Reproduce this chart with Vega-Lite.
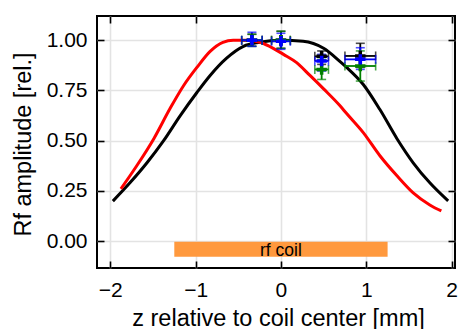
{
  "$schema": "https://vega.github.io/schema/vega-lite/v6.json",
  "width": 358,
  "height": 252,
  "autosize": "none",
  "padding": {"left": 97, "top": 16, "right": 5, "bottom": 61},
  "background": "white",
  "config": {
    "view": {"stroke": "black", "strokeWidth": 2},
    "font": "Liberation Sans",
    "axis": {
      "domain": false,
      "tickColor": "black",
      "tickWidth": 1.6,
      "tickSize": -7,
      "labelFont": "Liberation Sans",
      "labelFontSize": 21,
      "labelColor": "black",
      "titleFont": "Liberation Sans",
      "titleFontSize": 23.5,
      "titleFontWeight": "normal",
      "titleColor": "black",
      "gridColor": "#e3e3e3",
      "gridWidth": 1.6
    }
  },
  "datasets": {
    "coil": [
      {"z1": -1.25, "z2": 1.25, "a1": -0.078, "a2": -0.003, "zc": 0, "ac": -0.04, "label": "rf coil"}
    ],
    "curves": [
      {"model": "calc", "z": -1.97, "amp": 0.199},
      {"model": "calc", "z": -1.77, "amp": 0.29},
      {"model": "calc", "z": -1.57, "amp": 0.39},
      {"model": "calc", "z": -1.375, "amp": 0.5},
      {"model": "calc", "z": -1.18, "amp": 0.625},
      {"model": "calc", "z": -0.985, "amp": 0.74},
      {"model": "calc", "z": -0.83, "amp": 0.825},
      {"model": "calc", "z": -0.64, "amp": 0.91},
      {"model": "calc", "z": -0.44, "amp": 0.97},
      {"model": "calc", "z": -0.25, "amp": 0.99},
      {"model": "calc", "z": 0, "amp": 1.0},
      {"model": "calc", "z": 0.26, "amp": 0.995},
      {"model": "calc", "z": 0.5, "amp": 0.96},
      {"model": "calc", "z": 0.69, "amp": 0.895},
      {"model": "calc", "z": 0.77, "amp": 0.865},
      {"model": "calc", "z": 0.965, "amp": 0.78},
      {"model": "calc", "z": 1.16, "amp": 0.655},
      {"model": "calc", "z": 1.36, "amp": 0.51},
      {"model": "calc", "z": 1.55, "amp": 0.39},
      {"model": "calc", "z": 1.745, "amp": 0.29},
      {"model": "calc", "z": 1.96, "amp": 0.2},
      {"model": "meas", "z": -1.876, "amp": 0.26},
      {"model": "meas", "z": -1.69, "amp": 0.375},
      {"model": "meas", "z": -1.49, "amp": 0.51},
      {"model": "meas", "z": -1.3, "amp": 0.66},
      {"model": "meas", "z": -1.14, "amp": 0.775},
      {"model": "meas", "z": -0.985, "amp": 0.865},
      {"model": "meas", "z": -0.83, "amp": 0.945},
      {"model": "meas", "z": -0.68, "amp": 0.99},
      {"model": "meas", "z": -0.56, "amp": 1.0},
      {"model": "meas", "z": -0.4, "amp": 1.0},
      {"model": "meas", "z": -0.246, "amp": 0.99},
      {"model": "meas", "z": -0.09, "amp": 0.96},
      {"model": "meas", "z": 0.03, "amp": 0.93},
      {"model": "meas", "z": 0.18, "amp": 0.89},
      {"model": "meas", "z": 0.34, "amp": 0.825},
      {"model": "meas", "z": 0.5, "amp": 0.758},
      {"model": "meas", "z": 0.69, "amp": 0.675},
      {"model": "meas", "z": 0.77, "amp": 0.635},
      {"model": "meas", "z": 0.965, "amp": 0.54},
      {"model": "meas", "z": 1.16, "amp": 0.425},
      {"model": "meas", "z": 1.36, "amp": 0.325},
      {"model": "meas", "z": 1.55, "amp": 0.24},
      {"model": "meas", "z": 1.745, "amp": 0.18},
      {"model": "meas", "z": 1.88, "amp": 0.15}
    ],
    "points": [
      {"run": "run 1", "z": -0.34, "zlo": -0.46, "zhi": -0.22, "amp": 1.0, "alo": 0.97, "ahi": 1.03},
      {"run": "run 1", "z": 0.0, "zlo": -0.11, "zhi": 0.11, "amp": 1.0, "alo": 0.96, "ahi": 1.045},
      {"run": "run 1", "z": 0.477, "zlo": 0.397, "zhi": 0.557, "amp": 0.92, "alo": 0.88, "ahi": 0.947},
      {"run": "run 1", "z": 0.93, "zlo": 0.75, "zhi": 1.11, "amp": 0.922, "alo": 0.865, "ahi": 0.985},
      {"run": "run 2", "z": -0.34, "zlo": -0.46, "zhi": -0.22, "amp": 1.0, "alo": 0.97, "ahi": 1.03},
      {"run": "run 2", "z": 0.0, "zlo": -0.11, "zhi": 0.11, "amp": 1.0, "alo": 0.96, "ahi": 1.045},
      {"run": "run 2", "z": 0.477, "zlo": 0.397, "zhi": 0.557, "amp": 0.855, "alo": 0.805, "ahi": 0.905},
      {"run": "run 2", "z": 0.93, "zlo": 0.75, "zhi": 1.11, "amp": 0.872, "alo": 0.797, "ahi": 0.947},
      {"run": "run 3", "z": -0.34, "zlo": -0.46, "zhi": -0.22, "amp": 1.0, "alo": 0.97, "ahi": 1.04},
      {"run": "run 3", "z": 0.0, "zlo": -0.11, "zhi": 0.11, "amp": 0.995, "alo": 0.955, "ahi": 1.035},
      {"run": "run 3", "z": 0.477, "zlo": 0.397, "zhi": 0.557, "amp": 0.897, "alo": 0.847, "ahi": 0.93},
      {"run": "run 3", "z": 0.93, "zlo": 0.75, "zhi": 1.11, "amp": 0.905, "alo": 0.855, "ahi": 0.963}
    ]
  },
  "layer": [
    {
      "data": {"name": "coil"},
      "mark": {"type": "rect", "color": "#ff993e"},
      "encoding": {
        "x": {
          "field": "z1", "type": "quantitative",
          "scale": {"domain": [-2.156, 2.04], "nice": false, "zero": false},
          "axis": {
            "orient": "bottom", "values": [-2, -1, 0, 1, 2], "format": "d",
            "grid": true, "labelPadding": 18,
            "title": "z relative to coil center [mm]",
            "titleX": 181, "titleY": 57, "titleBaseline": "alphabetic"
          }
        },
        "x2": {"field": "z2"},
        "y": {
          "field": "a1", "type": "quantitative",
          "scale": {"domain": [-0.134, 1.121], "nice": false, "zero": false},
          "axis": {
            "orient": "left", "values": [0, 0.25, 0.5, 0.75, 1], "format": ".2f",
            "grid": true, "labelPadding": 17,
            "title": "Rf amplitude [rel.]",
            "titleX": -67, "titleY": 128, "titleBaseline": "alphabetic"
          }
        },
        "y2": {"field": "a2"}
      }
    },
    {
      "data": {"name": "coil"},
      "mark": {"type": "text", "fontSize": 17.5, "baseline": "alphabetic", "dy": 6.5, "color": "black"},
      "encoding": {
        "x": {"field": "zc", "type": "quantitative", "scale": {"domain": [-2.156, 2.04], "nice": false, "zero": false}, "axis": null},
        "y": {"field": "ac", "type": "quantitative", "scale": {"domain": [-0.134, 1.121], "nice": false, "zero": false}, "axis": null},
        "text": {"field": "label"}
      }
    },
    {
      "data": {"name": "curves"},
      "mark": {"type": "line", "strokeWidth": 3, "interpolate": "monotone"},
      "encoding": {
        "x": {"field": "z", "type": "quantitative", "scale": {"domain": [-2.156, 2.04], "nice": false, "zero": false}, "axis": null},
        "y": {"field": "amp", "type": "quantitative", "scale": {"domain": [-0.134, 1.121], "nice": false, "zero": false}, "axis": null},
        "stroke": {"field": "model", "type": "nominal", "scale": {"domain": ["calc", "meas"], "range": ["#000000", "#ff0000"]}, "legend": null}
      }
    },
    {
      "data": {"name": "points"},
      "mark": {"type": "rule", "strokeWidth": 1.8},
      "encoding": {
        "x": {"field": "z", "type": "quantitative", "scale": {"domain": [-2.156, 2.04], "nice": false, "zero": false}, "axis": null},
        "y": {"field": "alo", "type": "quantitative", "scale": {"domain": [-0.134, 1.121], "nice": false, "zero": false}, "axis": null},
        "y2": {"field": "ahi"},
        "color": {"field": "run", "type": "nominal", "scale": {"domain": ["run 1", "run 2", "run 3"], "range": ["#000000", "#008000", "#0000ff"]}, "legend": null}
      }
    },
    {
      "data": {"name": "points"},
      "mark": {"type": "rule", "strokeWidth": 1.8},
      "encoding": {
        "x": {"field": "zlo", "type": "quantitative", "scale": {"domain": [-2.156, 2.04], "nice": false, "zero": false}, "axis": null},
        "x2": {"field": "zhi"},
        "y": {"field": "amp", "type": "quantitative", "scale": {"domain": [-0.134, 1.121], "nice": false, "zero": false}, "axis": null},
        "color": {"field": "run", "type": "nominal", "scale": {"domain": ["run 1", "run 2", "run 3"], "range": ["#000000", "#008000", "#0000ff"]}, "legend": null}
      }
    },
    {
      "data": {"name": "points"},
      "transform": [{"fold": ["alo", "ahi"], "as": ["bound", "cap"]}],
      "mark": {"type": "tick", "orient": "horizontal", "size": 9, "thickness": 1.6},
      "encoding": {
        "x": {"field": "z", "type": "quantitative", "scale": {"domain": [-2.156, 2.04], "nice": false, "zero": false}, "axis": null},
        "y": {"field": "cap", "type": "quantitative", "scale": {"domain": [-0.134, 1.121], "nice": false, "zero": false}, "axis": null},
        "color": {"field": "run", "type": "nominal", "scale": {"domain": ["run 1", "run 2", "run 3"], "range": ["#000000", "#008000", "#0000ff"]}, "legend": null}
      }
    },
    {
      "data": {"name": "points"},
      "transform": [{"fold": ["zlo", "zhi"], "as": ["bound", "cap"]}],
      "mark": {"type": "tick", "orient": "vertical", "size": 9, "thickness": 1.6},
      "encoding": {
        "x": {"field": "cap", "type": "quantitative", "scale": {"domain": [-2.156, 2.04], "nice": false, "zero": false}, "axis": null},
        "y": {"field": "amp", "type": "quantitative", "scale": {"domain": [-0.134, 1.121], "nice": false, "zero": false}, "axis": null},
        "color": {"field": "run", "type": "nominal", "scale": {"domain": ["run 1", "run 2", "run 3"], "range": ["#000000", "#008000", "#0000ff"]}, "legend": null}
      }
    },
    {
      "data": {"name": "points"},
      "mark": {"type": "point", "shape": "M-1,0H1M0,-1V1", "size": 110, "strokeWidth": 3.5, "filled": false, "opacity": 1},
      "encoding": {
        "x": {"field": "z", "type": "quantitative", "scale": {"domain": [-2.156, 2.04], "nice": false, "zero": false}, "axis": null},
        "y": {"field": "amp", "type": "quantitative", "scale": {"domain": [-0.134, 1.121], "nice": false, "zero": false}, "axis": null},
        "color": {"field": "run", "type": "nominal", "scale": {"domain": ["run 1", "run 2", "run 3"], "range": ["#000000", "#008000", "#0000ff"]}, "legend": null}
      }
    },
    {
      "data": {"name": "coil"},
      "mark": {"type": "point", "opacity": 0},
      "encoding": {
        "x": {
          "field": "zc", "type": "quantitative",
          "scale": {"domain": [-2.156, 2.04], "nice": false, "zero": false},
          "axis": {"orient": "top", "values": [-2, -1, 0, 1, 2], "labels": false, "grid": false, "title": null}
        },
        "y": {
          "field": "ac", "type": "quantitative",
          "scale": {"domain": [-0.134, 1.121], "nice": false, "zero": false},
          "axis": {"orient": "right", "values": [0, 0.25, 0.5, 0.75, 1], "labels": false, "grid": false, "title": null}
        }
      }
    }
  ],
  "resolve": {"axis": {"x": "independent", "y": "independent"}}
}
